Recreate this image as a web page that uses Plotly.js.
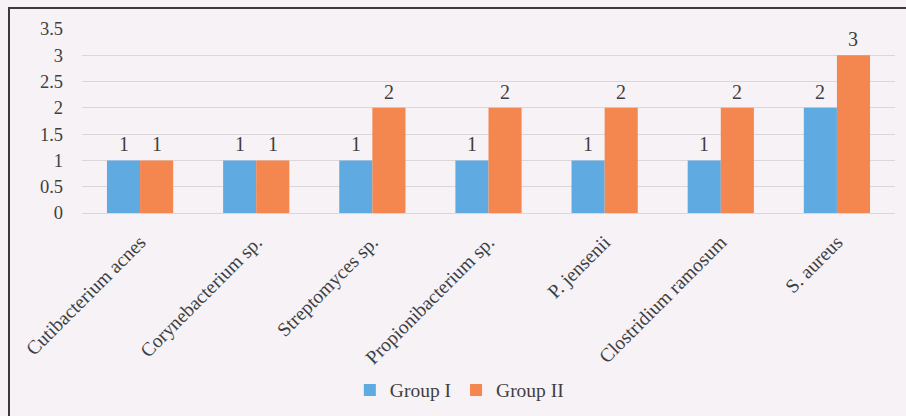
<!DOCTYPE html>
<html>
<head>
<meta charset="utf-8">
<script src="https://cdn.plot.ly/plotly-3.0.1.min.js"></script>
<style>
  html, body { margin: 0; padding: 0; background: #F6F2F6; }
  #frame {
    position: absolute; left: 8px; top: 7px; width: 898px; height: 409px;
    border-left: 2px solid #3a3a3a; border-top: 2px solid #3a3a3a;
    box-sizing: border-box;
  }
  #chart { position: absolute; left: 0; top: 0; width: 906px; height: 416px; }
</style>
</head>
<body>
<div id="frame"></div>
<div id="chart"></div>
<script>
// Bacterial species isolated per group
const species = [
  "Cutibacterium acnes",
  "Corynebacterium sp.",
  "Streptomyces sp.",
  "Propionibacterium sp.",
  "P. jensenii",
  "Clostridium ramosum",
  "S. aureus"
];
const groupI  = [1, 1, 1, 1, 1, 1, 2];
const groupII = [1, 1, 2, 2, 2, 2, 3];
const seriesNames = ["Group I", "Group II"];
const yTicks = [0, 0.5, 1, 1.5, 2, 2.5, 3, 3.5];

const BLUE = "#5FAAE1";
const ORANGE = "#F4864F";
const TEXT = "#3f3f3f";
const SERIF = "'Liberation Serif', 'Times New Roman', serif";

const traces = [
  { type: "bar", name: seriesNames[0], x: species, y: groupI,  marker: { color: BLUE } },
  { type: "bar", name: seriesNames[1], x: species, y: groupII, marker: { color: ORANGE } }
];

// Value labels above each bar, offset to sit over their bar within the group
const annotations = [];
[groupI, groupII].forEach((vals, s) => {
  vals.forEach((v, i) => {
    annotations.push({
      x: species[i], y: v, xref: "x", yref: "y",
      text: String(v), showarrow: false,
      xshift: s === 0 ? -16.5 : 16.5, yshift: 3,
      yanchor: "bottom",
      font: { family: SERIF, size: 20, color: TEXT }
    });
  });
});

const layout = {
  width: 906, height: 416,
  margin: { l: 82, r: 11, t: 29, b: 203 },
  paper_bgcolor: "rgba(0,0,0,0)",
  plot_bgcolor: "rgba(0,0,0,0)",
  barmode: "group",
  bargap: 0.43,
  bargroupgap: 0,
  font: { family: SERIF, size: 19, color: TEXT },
  xaxis: {
    tickangle: -45,
    showgrid: false, showline: false, zeroline: false, ticks: "",
    ticklabelstandoff: 13,
    tickfont: { family: SERIF, size: 19.5, color: TEXT }
  },
  yaxis: {
    range: [0, 3.5],
    tickvals: yTicks,
    ticktext: yTicks.map(String),
    showgrid: true, gridcolor: "#DAD6DA", gridwidth: 1,
    zeroline: true, zerolinecolor: "#DAD6DA", zerolinewidth: 1,
    showline: false, ticks: "",
    ticklabelstandoff: 18,
    tickfont: { family: SERIF, size: 18.5, color: TEXT }
  },
  showlegend: true,
  legend: {
    orientation: "h",
    xref: "container", x: 0.507, xanchor: "center",
    yref: "container", y: 0.062, yanchor: "middle",
    font: { family: SERIF, size: 19.5, color: TEXT },
    itemwidth: 30, bgcolor: "rgba(0,0,0,0)"
  },
  annotations: annotations
};

Plotly.newPlot("chart", traces, layout, { displayModeBar: false, staticPlot: true });
</script>
</body>
</html>
